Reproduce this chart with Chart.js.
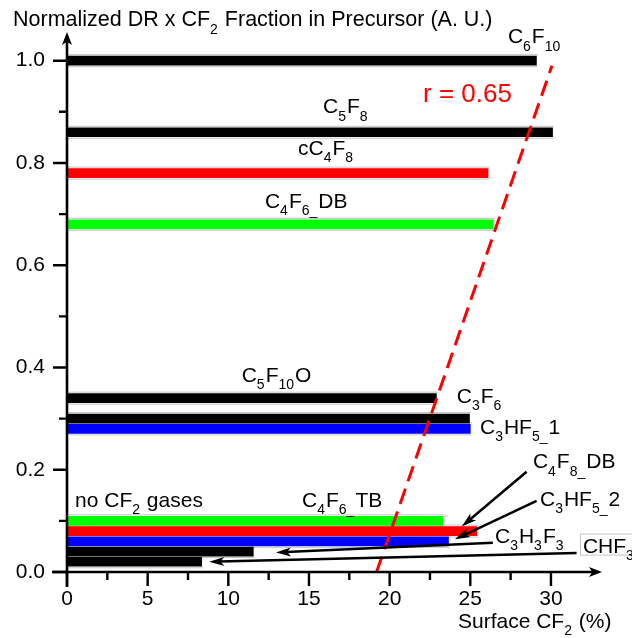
<!DOCTYPE html>
<html>
<head>
<meta charset="utf-8">
<script src="https://cdn.jsdelivr.net/npm/chart.js@4.4.1/dist/chart.umd.min.js"></script>
<style>
  html, body { margin: 0; padding: 0; background: #fff; overflow: hidden; }
</style>
</head>
<body>
<canvas id="c" width="632" height="638"></canvas>
<script>
// --- Data ---
const gases = ['C6F10', 'C5F8', 'cC4F8', 'C4F6_DB', 'C5F10O', 'C3F6', 'C3HF5_1',
               'C4F6_TB', 'C4F8_DB', 'C3HF5_2', 'C3H3F3', 'CHF3'];
const normDR = [1.00, 0.86, 0.78, 0.68, 0.34, 0.30, 0.28, 0.10, 0.08, 0.06, 0.04, 0.02];
const surfaceCF2 = [29.1, 30.1, 26.1, 26.4, 22.9, 24.95, 25.0, 23.3, 25.4, 23.65, 11.55, 8.35];
const fitLine = [{ x: 19.19, y: 0 }, { x: 30.06, y: 0.99 }];
const xTicks = [0, 5, 10, 15, 20, 25, 30];
const yTicks = [0, 0.2, 0.4, 0.6, 0.8, 1.0];
const xMinor = [2.5, 7.5, 12.5, 17.5, 22.5, 27.5];
const yMinor = [0.1, 0.3, 0.5, 0.7, 0.9];

// styles kept apart from the values
const barColors = ['#000000', '#000000', '#ff0000', '#00ff00', '#000000', '#000000', '#0000ff',
                   '#00ff00', '#ff0000', '#0000ff', '#000000', '#000000'];
const FONT = '"Liberation Sans", Arial, sans-serif';
const FS = 21;

// text annotations, {n} = subscript, placed in data units
const notes = [
  ['C{6}F{10}', 27.33, 1.034],
  ['C{5}F{8}', 15.87, 0.897],
  ['cC{4}F{8}', 14.32, 0.816],
  ['C{4}F{6_}DB', 12.27, 0.712],
  ['C{5}F{10}O', 10.83, 0.372],
  ['C{3}F{6}', 24.16, 0.331],
  ['C{3}HF{5_}1', 25.6, 0.270],
  ['C{4}F{8_}DB', 28.88, 0.203],
  ['C{3}HF{5_}2', 29.32, 0.129],
  ['C{4}F{6_}TB', 14.57, 0.128],
  ['no CF{2} gases', 0.5, 0.128],
  ['C{3}H{3}F{3}', 26.53, 0.057],
  ['CHF{3}', 31.98, 0.037]
];
// pointer arrows: [fromX, fromY, toX, toY]
const pointers = [
  [28.49, 0.196, 24.47, 0.089],
  [29.11, 0.139, 24.05, 0.064],
  [26.40, 0.057, 12.95, 0.038],
  [31.59, 0.037, 8.82, 0.020]
];

function drawRich(ctx, str, x, y, size) {
  const parts = str.split(/(\{[^}]*\})/).filter(Boolean);
  for (const p of parts) {
    const sub = p[0] === '{';
    const t = sub ? p.slice(1, -1) : p;
    ctx.font = (sub ? Math.round(size * 0.66) : size) + 'px ' + FONT;
    ctx.fillText(t, x, sub ? y + size * 0.35 : y);
    x += ctx.measureText(t).width + (sub ? 1 : 0);
  }
  return x;
}

function arrowHead(ctx, x1, y1, x2, y2, len, half) {
  const a = Math.atan2(y2 - y1, x2 - x1);
  const c = Math.cos(a), s = Math.sin(a);
  ctx.beginPath();
  ctx.moveTo(x2, y2);
  ctx.lineTo(x2 - len * c - half * s, y2 - len * s + half * c);
  ctx.lineTo(x2 - len * 0.75 * c, y2 - len * 0.75 * s);
  ctx.lineTo(x2 - len * c + half * s, y2 - len * s - half * c);
  ctx.closePath();
  ctx.fill();
}

const decor = {
  id: 'decor',
  beforeDatasetsDraw(chart) {
    // thin grey rules above and below every bar
    const ctx = chart.ctx;
    ctx.save();
    ctx.strokeStyle = '#c4c4c4';
    ctx.lineWidth = 1;
    chart.getDatasetMeta(1).data.forEach(bar => {
      [-6, 6].forEach(d => {
        ctx.beginPath();
        ctx.moveTo(bar.base, bar.y + d);
        ctx.lineTo(bar.x + 1.5, bar.y + d);
        ctx.stroke();
      });
    });
    ctx.restore();
  },
  afterDatasetsDraw(chart) {
    const ctx = chart.ctx;
    const xs = chart.scales.x, ys = chart.scales.y;
    ctx.save();
    ctx.strokeStyle = '#000';
    ctx.fillStyle = '#000';
    ctx.lineWidth = 2.5;
    pointers.forEach(([fx, fy, tx, ty]) => {
      const x1 = xs.getPixelForValue(fx), y1 = ys.getPixelForValue(fy);
      const x2 = xs.getPixelForValue(tx), y2 = ys.getPixelForValue(ty);
      const a = Math.atan2(y2 - y1, x2 - x1);
      ctx.beginPath();
      ctx.moveTo(x1, y1);
      ctx.lineTo(x2 - 10 * Math.cos(a), y2 - 10 * Math.sin(a));
      ctx.stroke();
      arrowHead(ctx, x1, y1, x2, y2, 15, 4.5);
    });
    ctx.restore();
  },
  afterDraw(chart) {
    const ctx = chart.ctx;
    const xs = chart.scales.x, ys = chart.scales.y;
    const { left, right, top, bottom } = chart.chartArea;
    ctx.save();
    ctx.strokeStyle = '#000';
    ctx.fillStyle = '#000';
    ctx.lineWidth = 2.6;
    // axis lines
    ctx.beginPath();
    ctx.moveTo(left, bottom + 15);
    ctx.lineTo(left, top + 6);
    ctx.moveTo(left - 15, bottom);
    ctx.lineTo(right - 6, bottom);
    ctx.stroke();
    arrowHead(ctx, left, bottom, left, top + 2, 13, 5);
    arrowHead(ctx, left, bottom, right + 2, bottom, 13, 5);
    // tick marks
    ctx.lineWidth = 2.4;
    ctx.beginPath();
    xTicks.forEach(v => { const p = xs.getPixelForValue(v); ctx.moveTo(p, bottom); ctx.lineTo(p, bottom + 14); });
    xMinor.forEach(v => { const p = xs.getPixelForValue(v); ctx.moveTo(p, bottom); ctx.lineTo(p, bottom + 8); });
    yTicks.forEach(v => { const p = ys.getPixelForValue(v); ctx.moveTo(left, p); ctx.lineTo(left - 14, p); });
    yMinor.forEach(v => { const p = ys.getPixelForValue(v); ctx.moveTo(left, p); ctx.lineTo(left - 8, p); });
    ctx.stroke();

    // axis titles
    ctx.textAlign = 'left';
    ctx.textBaseline = 'alphabetic';
    drawRich(ctx, 'Normalized DR x CF{2} Fraction in Precursor (A. U.)', 13, 26, 21.5);
    drawRich(ctx, 'Surface CF{2} (%)', 458, 628, FS);

    // fit label
    ctx.fillStyle = '#ff0000';
    ctx.font = '26px ' + FONT;
    ctx.fillText('r = 0.65', xs.getPixelForValue(22.07), ys.getPixelForValue(0.919));

    // gas labels
    ctx.fillStyle = '#000';
    notes.forEach(([txt, vx, vy]) => {
      const x = xs.getPixelForValue(vx), y = ys.getPixelForValue(vy);
      if (txt === 'CHF{3}') {
        ctx.save();
        ctx.fillStyle = '#fff';
        ctx.strokeStyle = '#c4c4c4';
        ctx.lineWidth = 1;
        ctx.fillRect(x - 2.5, y - 19, 80, 21);
        ctx.strokeRect(x - 2.5, y - 19, 80, 21);
        ctx.restore();
      }
      drawRich(ctx, txt, x, y, FS);
    });
    ctx.restore();
  }
};

new Chart(document.getElementById('c'), {
  type: 'bar',
  data: {
    datasets: [
      {
        type: 'line',
        indexAxis: 'x',
        data: fitLine,
        borderColor: '#ff0000',
        borderWidth: 3,
        borderDash: [16, 8],
        pointRadius: 0,
        order: 0
      },
      {
        label: 'Normalized DR',
        data: gases.map((g, i) => ({ x: surfaceCF2[i], y: normDR[i] })),
        backgroundColor: barColors,
        borderWidth: 0,
        barThickness: 9,
        order: 1
      }
    ]
  },
  options: {
    indexAxis: 'y',
    responsive: false,
    animation: false,
    events: [],
    layout: { padding: { left: 0, top: 30, right: 32, bottom: 0 } },
    plugins: { legend: { display: false }, tooltip: { enabled: false } },
    scales: {
      x: {
        type: 'linear',
        min: 0,
        max: 33.04,
        grid: { display: false, drawTicks: false },
        border: { display: false },
        afterBuildTicks: s => { s.ticks = xTicks.map(v => ({ value: v })); },
        afterFit: s => { s.height = 66; s.paddingLeft = 0; s.paddingRight = 0; },
        ticks: { color: '#000', padding: 15, maxRotation: 0, font: { family: FONT, size: FS }, callback: v => String(v) }
      },
      y: {
        type: 'linear',
        min: 0,
        max: 1.06,
        offset: false,
        grid: { display: false, drawTicks: false, offset: false },
        border: { display: false },
        afterBuildTicks: s => { s.ticks = yTicks.map(v => ({ value: v })); },
        afterFit: s => { s.width = 67; s.paddingTop = 0; s.paddingBottom = 0; },
        ticks: { color: '#000', padding: 22, font: { family: FONT, size: FS }, callback: v => Number(v).toFixed(1) }
      }
    }
  },
  plugins: [decor]
});
</script>
</body>
</html>
